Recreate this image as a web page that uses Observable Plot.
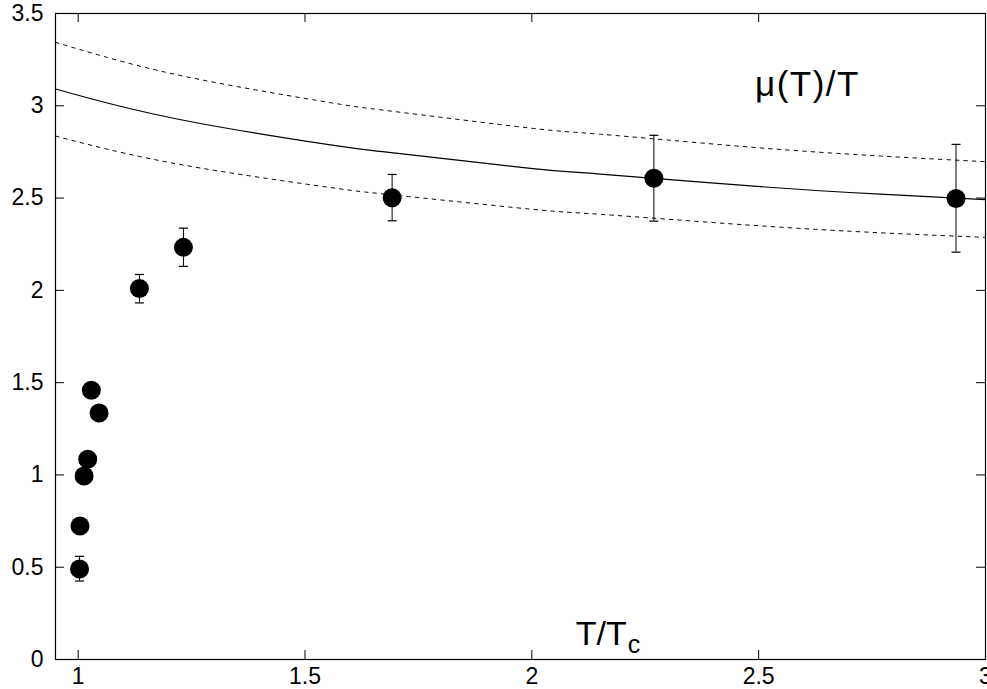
<!DOCTYPE html>
<html>
<head>
<meta charset="utf-8">
<script src="https://cdn.jsdelivr.net/npm/d3@7"></script>
<script src="https://cdn.jsdelivr.net/npm/@observablehq/plot@0.6"></script>
<style>
  html, body { margin: 0; padding: 0; background: #fff; }
  #chart svg { display: block; }
</style>
</head>
<body>
<div id="chart"></div>
<script>
// ---- data ----
const pointX  = [1.003, 1.004, 1.013, 1.021, 1.029, 1.046, 1.135, 1.232, 1.692, 2.269, 2.935];
const pointY  = [0.490, 0.723, 0.994, 1.085, 1.459, 1.336, 2.010, 2.233, 2.502, 2.607, 2.498];
const errLow  = [0.425, null, null, null, null, null, 1.932, 2.130, 2.377, 2.375, 2.207];
const errHigh = [0.559, null, null, null, null, null, 2.086, 2.337, 2.628, 2.840, 2.791];

const curveX     = [0.95, 1.064, 1.269, 1.556, 1.69, 1.997, 2.151, 2.482, 2.768, 3.0];
const curveMid   = [3.091, 3.015, 2.904, 2.788, 2.746, 2.661, 2.630, 2.566, 2.521, 2.492];
const curveUpper = [3.344, 3.262, 3.142, 3.017, 2.971, 2.879, 2.846, 2.776, 2.728, 2.697];
const curveLower = [2.836, 2.765, 2.663, 2.557, 2.518, 2.440, 2.412, 2.353, 2.312, 2.287];

const xTicks = [1, 1.5, 2, 2.5, 3];
const yTicks = [0, 0.5, 1, 1.5, 2, 2.5, 3, 3.5];
const xDomain = [0.95, 3];
const yDomain = [0, 3.5];

const curveLabel = "μ(T)/T";
const axisLabelMain = "T/T";
const axisLabelSub = "c";

// ---- build tables ----
const points = pointX.map((x, i) => ({x, y: pointY[i], lo: errLow[i], hi: errHigh[i]}));
const errs = points.filter(d => d.lo != null);
const mid = curveX.map((x, i) => ({x, y: curveMid[i]}));
const upper = curveX.map((x, i) => ({x, y: curveUpper[i]}));
const lower = curveX.map((x, i) => ({x, y: curveLower[i]}));

const W = 987, H = 689;
const mT = 13, mB = 30, mL = 55, mR = 2;
const plotH = H - mT - mB, plotW = W - mL - mR;
const tickLen = 9;
const font = "'Liberation Sans', Arial, Helvetica, sans-serif";

const capSymbol = {
  draw(context, size) {
    const r = Math.sqrt(size / Math.PI);
    context.moveTo(-r, 0);
    context.lineTo(r, 0);
  }
};

const plot = Plot.plot({
  width: W,
  height: H,
  marginTop: mT,
  marginBottom: mB,
  marginLeft: mL,
  marginRight: mR,
  style: {fontFamily: font, background: "white", color: "black"},
  x: {domain: xDomain},
  y: {domain: yDomain},
  marks: [
    Plot.axisX(xTicks, {anchor: "bottom", tickSize: 0, tickPadding: 8, fontSize: 23, label: null, tickFormat: d => String(d)}),
    Plot.axisY(yTicks, {anchor: "left", tickSize: 0, tickPadding: 12, fontSize: 23, label: null, tickFormat: d => String(d)}),
    // inward tick marks on all four sides
    Plot.ruleX(xTicks, {x: d => d, insetTop: plotH - tickLen, stroke: "black"}),
    Plot.ruleX(xTicks, {x: d => d, insetBottom: plotH - tickLen, stroke: "black"}),
    Plot.ruleY(yTicks, {y: d => d, insetRight: plotW - tickLen, stroke: "black"}),
    Plot.ruleY(yTicks, {y: d => d, insetLeft: plotW - tickLen, stroke: "black"}),
    // curves
    Plot.line(upper, {x: "x", y: "y", curve: "natural", stroke: "black", strokeWidth: 1, strokeDasharray: "3.5,5"}),
    Plot.line(lower, {x: "x", y: "y", curve: "natural", stroke: "black", strokeWidth: 1, strokeDasharray: "3.5,5"}),
    Plot.line(mid, {x: "x", y: "y", curve: "natural", stroke: "black", strokeWidth: 1.2}),
    // error bars
    Plot.ruleX(errs, {x: "x", y1: "lo", y2: "hi", stroke: "black", strokeWidth: 1}),
    Plot.dot(errs, {x: "x", y: "lo", symbol: capSymbol, r: 4.5, stroke: "black", fill: "none", strokeWidth: 1.2}),
    Plot.dot(errs, {x: "x", y: "hi", symbol: capSymbol, r: 4.5, stroke: "black", fill: "none", strokeWidth: 1.2}),
    // points
    Plot.dot(points, {x: "x", y: "y", r: 9.5, fill: "black", stroke: "none"}),
    Plot.frame({stroke: "black", strokeWidth: 1.2})
  ]
});

document.getElementById("chart").appendChild(plot);

// annotation texts positioned through the plot's scales
const sx = v => plot.scale("x").apply(v);
const sy = v => plot.scale("y").apply(v);
const svg = d3.select(plot);

svg.append("text")
  .attr("x", sx(2.493))
  .attr("y", sy(3.048))
  .attr("text-anchor", "start")
  .attr("font-family", font)
  .attr("font-size", 35)
  .attr("letter-spacing", 1.5)
  .attr("fill", "black")
  .text(curveLabel);

const xl = svg.append("text")
  .attr("x", sx(2.098))
  .attr("y", sy(0.076))
  .attr("text-anchor", "start")
  .attr("font-family", font)
  .attr("font-size", 34)
  .attr("fill", "black");
xl.append("tspan").text(axisLabelMain);
xl.append("tspan").attr("font-size", 25).attr("dy", 8).attr("dx", 1).text(axisLabelSub);
</script>
</body>
</html>
